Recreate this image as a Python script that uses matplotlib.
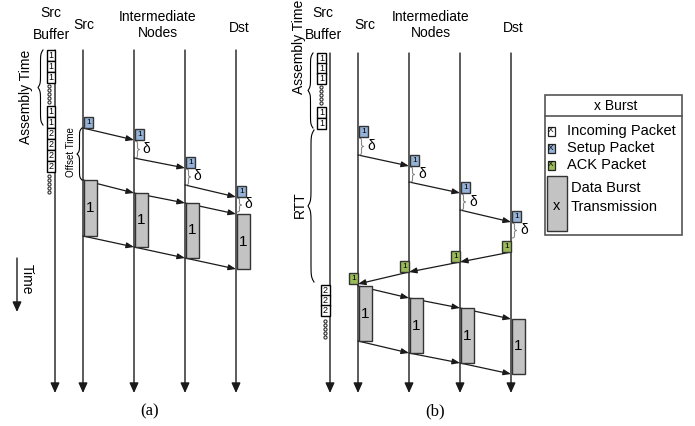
import numpy as np
import matplotlib
matplotlib.use('Agg')
import matplotlib.pyplot as plt
from matplotlib.patches import Rectangle

plt.rcParams['font.family'] = ['Liberation Sans', 'DejaVu Sans']

blue = "#95b3d7"        # setup packet
green = "#9bbb59"       # ack packet
grey = "#c3c3c3"        # data burst
line_clr = "#1a1a1a"
time_end = 393          # where the time arrows stop

# ---- panel (a): one-way reservation ----
nodes_a = [83, 134, 185, 236]           # Src, Int1, Int2, Dst
buf_a = 55
top_a = 50
setup_arr_a = [128, 140, 168, 197]      # setup packet reaches node
setup_dep_a = [128, 158, 185, 212]      # setup leaves node (after delta)
burst_top_a = [180, 193, 203, 214]
burst_bot_a = [236, 247, 258, 269]
cells_a_lbl = ["1", "1", "1", "1", "1", "2", "2", "2", "2"]
cells_a_y = [50, 61, 72, 106, 117, 128, 139, 150, 161]
dots_a_y = [86, 90, 94, 98, 102, 176, 180, 184, 188, 192]

# ---- panel (b): two-way reservation ----
nodes_b = [358, 409, 460, 511]
buf_b = 330
top_b = 53
setup_arr_b = [137, 166, 193, 222]
setup_dep_b = [155, 182, 210, 238]
ack_arr_b = [284, 272, 262, 252]        # ack reaches node (Src..Dst)
burst_top_b = [286, 298, 308, 319]
burst_bot_b = [341, 353, 363, 374]
cells_b_lbl = ["1", "1", "1", "1", "1", "2", "2", "2"]
cells_b_y = [53, 63, 73, 107, 118, 285, 295, 305]
cells_b_x = [317, 317, 317, 317, 317, 321, 321, 321]
dots_b_y = [87, 91, 95, 99, 103, 321, 325, 329, 333, 337]
dots_b_x = [321, 321, 321, 321, 321, 325, 325, 325, 325, 325]


def arrow(ax, p0, p1, big=False, lw=0.9):
    style = '-|>,head_length=0.6,head_width=0.27' if big else '-|>,head_length=0.45,head_width=0.17'
    ax.annotate('', xy=p1, xytext=p0,
                arrowprops=dict(arrowstyle=style, lw=lw, color=line_clr,
                                mutation_scale=10, shrinkA=0, shrinkB=0), zorder=2)


def brace(ax, x, y0, y1, w, color='k', lw=0.8, beta=40):
    """vertical curly brace, ends at x, tip at x + w"""
    n = 60
    t = np.linspace(0, 0.5, n)
    half = 1 / (1 + np.exp(-beta * t)) + 1 / (1 + np.exp(-beta * (t - 0.5)))
    full = np.concatenate([half, half[-2::-1]])
    full = (full - full.min()) / (full.max() - full.min())
    ys = np.linspace(y0, y1, len(full))
    ax.plot(x + w * full, ys, color=color, lw=lw, zorder=3)


def packet(ax, x, y_bottom, face, label, left=False, w=9, h=11.5):
    x0 = x - w if left else x + 1
    ax.add_patch(Rectangle((x0, y_bottom - h), w, h, facecolor=face,
                           edgecolor="#333333", lw=1.0, zorder=4))
    ax.text(x0 + w / 2, y_bottom - h / 2, label, fontsize=6, ha='center',
            va='center', zorder=5)


def burst(ax, x, y0, y1, label="1"):
    ax.add_patch(Rectangle((x + 1, y0), 13, y1 - y0, facecolor=grey,
                           edgecolor="#333333", lw=1.0, zorder=4))
    ax.text(x + 7.5, (y0 + y1) / 2, label, fontsize=11, ha='center',
            va='center', zorder=5)


def cell(ax, x, y, label, w=9, h=10.5):
    ax.add_patch(Rectangle((x, y), w, h, facecolor='white', edgecolor='k',
                           lw=1.0, zorder=4))
    ax.text(x + w / 2, y + h / 2, label, fontsize=6.5, ha='center',
            va='center', zorder=5)


def dots(ax, xs, ys):
    ax.scatter(xs, ys, s=5, facecolor='white', edgecolor='#333333',
               lw=0.8, zorder=4)


def headers(ax, buf_x, src_x, mid_x, dst_x):
    ax.text(buf_x, 13, "Src", fontsize=10, ha='center', va='center')
    ax.text(buf_x, 35, "Buffer", fontsize=10, ha='center', va='center')
    ax.text(src_x, 25, "Src", fontsize=10, ha='center', va='center')
    ax.text(mid_x, 17, "Intermediate", fontsize=10, ha='center', va='center')
    ax.text(mid_x, 33, "Nodes", fontsize=10, ha='center', va='center')
    ax.text(dst_x, 28, "Dst", fontsize=10, ha='center', va='center')


fig = plt.figure(figsize=(6.95, 4.26), dpi=100)
ax = fig.add_axes([0, 0, 1, 1])
ax.set_xlim(0, 695)
ax.set_ylim(426, 0)
ax.axis('off')

# ================= panel (a) =================
headers(ax, 51, 84, 158, 239)
for x in [buf_a] + nodes_a:
    arrow(ax, (x, top_a), (x, time_end), big=True, lw=1.0)
for lbl, y in zip(cells_a_lbl, cells_a_y):
    cell(ax, buf_a - 8.5, y, lbl, w=8.5)
dots(ax, [49] * len(dots_a_y), dots_a_y)

brace(ax, 43, 50, 125, -5)
ax.text(26, 97, "Assembly Time", fontsize=10, rotation=90, ha='center', va='center')
brace(ax, 82, 128, 180, -5)
ax.text(71, 152, "Offset Time", fontsize=7, rotation=90, ha='center', va='center')

for i, x in enumerate(nodes_a):
    packet(ax, x, setup_arr_a[i], blue, "1")
    if i > 0:
        brace(ax, x + 1.5, setup_arr_a[i] + 1, setup_dep_a[i], 4, color='#888888', lw=0.8)
        ax.text(x + 12, (setup_arr_a[i] + setup_dep_a[i]) / 2, "δ", fontsize=10,
                ha='center', va='center')
    if i < len(nodes_a) - 1:
        arrow(ax, (x, setup_dep_a[i]), (nodes_a[i + 1], setup_arr_a[i + 1]))
        arrow(ax, (x, burst_top_a[i]), (nodes_a[i + 1], burst_top_a[i + 1]))
        arrow(ax, (x, burst_bot_a[i]), (nodes_a[i + 1], burst_bot_a[i + 1]))
    burst(ax, x, burst_top_a[i], burst_bot_a[i])

# time arrow
arrow(ax, (17, 258), (17, 312), big=True, lw=1.0)
ax.text(27, 279, "Time", fontsize=10, rotation=-90, ha='center', va='center')
ax.text(150, 411, "(a)", fontsize=12, family='Liberation Serif', ha='center', va='center')

# ================= panel (b) =================
headers(ax, 323, 365, 431, 513)
for x in [buf_b] + nodes_b:
    arrow(ax, (x, top_b), (x, time_end), big=True, lw=1.0)
for lbl, x, y in zip(cells_b_lbl, cells_b_x, cells_b_y):
    cell(ax, x, y, lbl)
dots(ax, dots_b_x, dots_b_y)

brace(ax, 313, 53, 128, -5)
ax.text(299, 47, "Assembly Time", fontsize=10, rotation=90, ha='center', va='center')
brace(ax, 314, 130, 282, -6, beta=60)
ax.text(300, 205, "RTT", fontsize=10, rotation=90, ha='center', va='center')

for i, x in enumerate(nodes_b):
    packet(ax, x, setup_arr_b[i], blue, "1")
    brace(ax, x + 1.5, setup_arr_b[i] + 1, setup_dep_b[i], 4, color='#888888', lw=0.8)
    ax.text(x + 13, (setup_arr_b[i] + setup_dep_b[i]) / 2, "δ", fontsize=10,
            ha='center', va='center')
    if i < len(nodes_b) - 1:
        arrow(ax, (x, setup_dep_b[i]), (nodes_b[i + 1], setup_arr_b[i + 1]))
        arrow(ax, (nodes_b[i + 1], ack_arr_b[i + 1]), (x, ack_arr_b[i]))
        arrow(ax, (x, burst_top_b[i]), (nodes_b[i + 1], burst_top_b[i + 1]))
        arrow(ax, (x, burst_bot_b[i]), (nodes_b[i + 1], burst_bot_b[i + 1]))
    packet(ax, x, ack_arr_b[i], green, "1", left=True)
    burst(ax, x, burst_top_b[i], burst_bot_b[i])

ax.text(435, 411, "(b)", fontsize=12, family='Liberation Serif', ha='center', va='center')

# ================= legend =================
ax.add_patch(Rectangle((545, 95), 137, 140, facecolor='white', edgecolor='#555555', lw=1.2))
ax.plot([545, 682], [116, 116], color='#555555', lw=1.2)
ax.text(616, 106, "x Burst", fontsize=10, ha='center', va='center')
leg_labels = ["Incoming Packet", "Setup Packet", "ACK Packet"]
leg_colors = ["white", blue, green]
leg_y = [131, 148, 165]
for lbl, c, y in zip(leg_labels, leg_colors, leg_y):
    ax.add_patch(Rectangle((547.5, y - 4.5), 7, 9, facecolor=c, edgecolor='#222222', lw=0.9))
    ax.text(551, y, "X", fontsize=6, ha='center', va='center')
    ax.text(567, y, lbl, fontsize=10.5, ha='left', va='center')
ax.add_patch(Rectangle((547, 176), 20, 55, facecolor=grey, edgecolor='#333333', lw=1.0))
ax.text(557, 206, "x", fontsize=10.5, ha='center', va='center')
ax.text(571, 188, "Data Burst", fontsize=10.5, ha='left', va='center')
ax.text(571, 207, "Transmission", fontsize=10.5, ha='left', va='center')

fig.savefig("out.png", dpi=100)
plt.close(fig)
